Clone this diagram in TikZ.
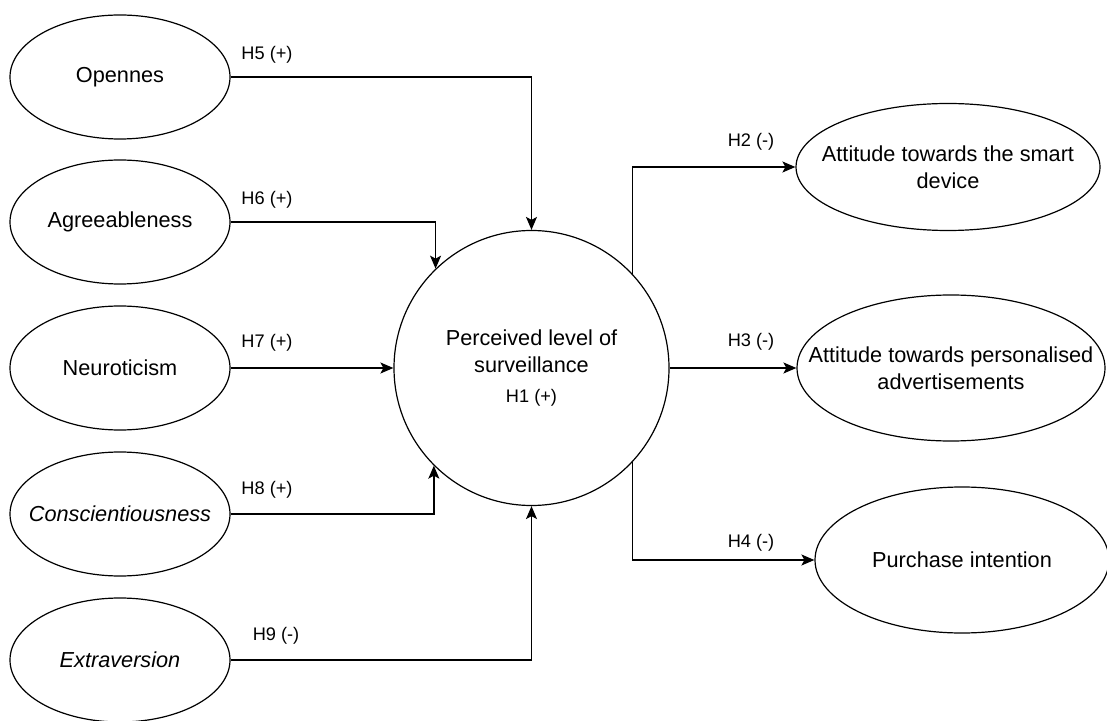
\documentclass[tikz,border=0pt]{standalone}
\usepackage{fontspec}
\setmainfont{Liberation Sans}
\usetikzlibrary{arrows.meta,shapes.geometric}
\tikzset{
  trait/.style={draw,ellipse,line width=.6pt,inner sep=-20pt,minimum width=110pt,minimum height=62pt,align=center,font=\fontsize{10.85}{13.5}\selectfont},
  hyp/.style={font=\fontsize{9.1}{11}\selectfont},
  link/.style={line width=.75pt,-{Stealth[length=6.5pt,width=5.5pt,inset=1.5pt]}}
}
\begin{document}
\begin{tikzpicture}[x=.5pt,y=-.5pt]
\useasboundingbox (0,0) rectangle (1107,721);
% personality traits
\node[trait] (open) at (120,77){Opennes};
\node[trait] (agree) at (120,222){Agreeableness};
\node[trait] (neuro) at (120,368){Neuroticism};
\node[trait] (consc) at (120,514){\itshape Conscientiousness};
\node[trait] (extra) at (120,660){\itshape Extraversion};
% mediator
\node[trait,circle,minimum size=137.5pt] (surv) at (531.5,368){Perceived level of\\surveillance\\[1.5pt]{\fontsize{9.1}{11}\selectfont H1 (+)}};
% outcomes
\node[trait,minimum width=152pt,minimum height=63.5pt] (device) at (948,167){Attitude towards the smart\\device};
\node[trait,minimum width=154pt,minimum height=73pt] (ads) at (951,368){Attitude towards personalised\\advertisements};
\node[trait,minimum width=147pt,minimum height=73pt] (buy) at (962,560){Purchase intention};
% hypotheses
\draw[link] (open.east) -| (surv.north);
\draw[link] (agree.east) -| (surv.134.6);
\draw[link] (neuro.east) -- (surv.west);
\draw[link] (consc.east) -| (surv.225.4);
\draw[link] (extra.east) -| (surv.south);
\draw[link] (surv.43.1) |- (device.west);
\draw[link] (surv.east) -- (ads.west);
\draw[link] (surv.-43.1) |- (buy.west);
\node[hyp] (h5) at (267,55){H5 (+)};
\node[hyp] (h6) at (267,200){H6 (+)};
\node[hyp] (h7) at (267,343){H7 (+)};
\node[hyp] (h8) at (267,490){H8 (+)};
\node[hyp] (h9) at (276,636){H9 (-)};
\node[hyp] (h2) at (751,142){H2 (-)};
\node[hyp] (h3) at (751,342){H3 (-)};
\node[hyp] (h4) at (751,543){H4 (-)};
\end{tikzpicture}
\end{document}
